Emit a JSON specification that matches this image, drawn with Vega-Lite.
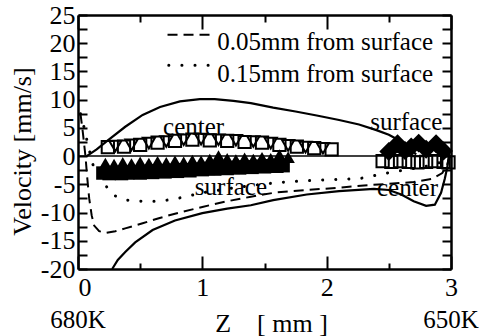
{
  "$schema": "https://vega.github.io/schema/vega-lite/v6.json",
  "width": 373,
  "height": 254,
  "autosize": {"type": "none"},
  "padding": {"left": 78, "top": 15, "right": 38, "bottom": 67},
  "background": "white",
  "config": {"view": {"stroke": null}},
  "datasets": {
    "lines": [
      {"series": "zero", "z": 0, "v": 0}, {"series": "zero", "z": 3, "v": 0},
      {"series": "up", "z": 0.07, "v": 0}, {"series": "up", "z": 0.15, "v": 1.2}, {"series": "up", "z": 0.24, "v": 2.8}, {"series": "up", "z": 0.38, "v": 5.2}, {"series": "up", "z": 0.52, "v": 7.3}, {"series": "up", "z": 0.66, "v": 8.7}, {"series": "up", "z": 0.82, "v": 9.7}, {"series": "up", "z": 0.98, "v": 10.1}, {"series": "up", "z": 1.1, "v": 10.1}, {"series": "up", "z": 1.25, "v": 9.8}, {"series": "up", "z": 1.39, "v": 9.4}, {"series": "up", "z": 1.57, "v": 8.6}, {"series": "up", "z": 1.75, "v": 7.9}, {"series": "up", "z": 1.92, "v": 7.2}, {"series": "up", "z": 2.1, "v": 6.4}, {"series": "up", "z": 2.26, "v": 5.6}, {"series": "up", "z": 2.4, "v": 4.6}, {"series": "up", "z": 2.5, "v": 3.8}, {"series": "up", "z": 2.6, "v": 2.6}, {"series": "up", "z": 2.67, "v": 1.4}, {"series": "up", "z": 2.72, "v": 0.3},
      {"series": "low", "z": 0.275, "v": -20}, {"series": "low", "z": 0.32, "v": -18.4}, {"series": "low", "z": 0.38, "v": -17}, {"series": "low", "z": 0.46, "v": -15.3}, {"series": "low", "z": 0.6, "v": -13.1}, {"series": "low", "z": 0.78, "v": -11.4}, {"series": "low", "z": 1.0, "v": -10.1}, {"series": "low", "z": 1.2, "v": -9.3}, {"series": "low", "z": 1.39, "v": -8.7}, {"series": "low", "z": 1.57, "v": -7.8}, {"series": "low", "z": 1.84, "v": -6.8}, {"series": "low", "z": 2.1, "v": -6.2}, {"series": "low", "z": 2.38, "v": -5.8}, {"series": "low", "z": 2.5, "v": -6.0}, {"series": "low", "z": 2.6, "v": -6.8}, {"series": "low", "z": 2.7, "v": -8.0}, {"series": "low", "z": 2.8, "v": -8.8}, {"series": "low", "z": 2.87, "v": -8.6}, {"series": "low", "z": 2.92, "v": -6.5}, {"series": "low", "z": 2.95, "v": -4.0}, {"series": "low", "z": 2.97, "v": -2.0}, {"series": "low", "z": 2.985, "v": 0.5},
      {"series": "dash", "z": 0.02, "v": 7.5}, {"series": "dash", "z": 0.04, "v": 4}, {"series": "dash", "z": 0.06, "v": 0}, {"series": "dash", "z": 0.075, "v": -4}, {"series": "dash", "z": 0.09, "v": -7.5}, {"series": "dash", "z": 0.11, "v": -10.5}, {"series": "dash", "z": 0.13, "v": -12.3}, {"series": "dash", "z": 0.17, "v": -13.3}, {"series": "dash", "z": 0.22, "v": -13.6}, {"series": "dash", "z": 0.3, "v": -13.3}, {"series": "dash", "z": 0.38, "v": -12.8}, {"series": "dash", "z": 0.52, "v": -11.9}, {"series": "dash", "z": 0.65, "v": -11.0}, {"series": "dash", "z": 0.78, "v": -10.2}, {"series": "dash", "z": 1.0, "v": -9.0}, {"series": "dash", "z": 1.2, "v": -8.0}, {"series": "dash", "z": 1.39, "v": -7.2}, {"series": "dash", "z": 1.6, "v": -6.4}, {"series": "dash", "z": 1.84, "v": -6.0}, {"series": "dash", "z": 2.1, "v": -5.6}, {"series": "dash", "z": 2.3, "v": -5.2}, {"series": "dash", "z": 2.5, "v": -4.9}, {"series": "dash", "z": 2.7, "v": -4.6}, {"series": "dash", "z": 2.85, "v": -4.0}, {"series": "dash", "z": 2.93, "v": -3.0}, {"series": "dash", "z": 2.97, "v": -1.5}, {"series": "dash", "z": 2.99, "v": 0},
      {"series": "dot", "z": 0.02, "v": 7.5}, {"series": "dot", "z": 0.05, "v": 5}, {"series": "dot", "z": 0.08, "v": 2}, {"series": "dot", "z": 0.12, "v": -1.5}, {"series": "dot", "z": 0.16, "v": -3.5}, {"series": "dot", "z": 0.22, "v": -5.1}, {"series": "dot", "z": 0.27, "v": -6.7}, {"series": "dot", "z": 0.33, "v": -7.4}, {"series": "dot", "z": 0.4, "v": -7.8}, {"series": "dot", "z": 0.52, "v": -8.0}, {"series": "dot", "z": 0.65, "v": -8.0}, {"series": "dot", "z": 0.78, "v": -7.6}, {"series": "dot", "z": 0.9, "v": -7.0}, {"series": "dot", "z": 1.0, "v": -6.5}, {"series": "dot", "z": 1.2, "v": -5.8}, {"series": "dot", "z": 1.4, "v": -5.2}, {"series": "dot", "z": 1.6, "v": -4.7}, {"series": "dot", "z": 1.8, "v": -4.4}, {"series": "dot", "z": 2.0, "v": -4.2}, {"series": "dot", "z": 2.26, "v": -4.0}, {"series": "dot", "z": 2.53, "v": -2.8}, {"series": "dot", "z": 2.7, "v": -2.2}, {"series": "dot", "z": 2.85, "v": -1.6}, {"series": "dot", "z": 2.95, "v": -0.8}, {"series": "dot", "z": 3.0, "v": 0},
      {"series": "legdash", "z": 0.72, "v": 21.5}, {"series": "legdash", "z": 1.09, "v": 21.5},
      {"series": "legdot", "z": 0.73, "v": 16.1}, {"series": "legdot", "z": 1.05, "v": 16.1}
    ],
    "pts": [
      {"kind": "fsq", "z": 0.20, "v": -3.0}, {"kind": "fsq", "z": 0.25, "v": -3.1}, {"kind": "fsq", "z": 0.30, "v": -2.9}, {"kind": "fsq", "z": 0.35, "v": -3.1}, {"kind": "fsq", "z": 0.40, "v": -3.0}, {"kind": "fsq", "z": 0.45, "v": -2.8}, {"kind": "fsq", "z": 0.50, "v": -3.0}, {"kind": "fsq", "z": 0.55, "v": -2.7}, {"kind": "fsq", "z": 0.60, "v": -2.9}, {"kind": "fsq", "z": 0.65, "v": -2.6}, {"kind": "fsq", "z": 0.70, "v": -2.8}, {"kind": "fsq", "z": 0.75, "v": -2.5}, {"kind": "fsq", "z": 0.80, "v": -2.7}, {"kind": "fsq", "z": 0.85, "v": -2.4}, {"kind": "fsq", "z": 0.90, "v": -2.6}, {"kind": "fsq", "z": 0.95, "v": -2.3}, {"kind": "fsq", "z": 1.00, "v": -2.4}, {"kind": "fsq", "z": 1.05, "v": -2.2}, {"kind": "fsq", "z": 1.10, "v": -2.3}, {"kind": "fsq", "z": 1.15, "v": -2.1}, {"kind": "fsq", "z": 1.20, "v": -2.2}, {"kind": "fsq", "z": 1.25, "v": -2.0}, {"kind": "fsq", "z": 1.30, "v": -2.1}, {"kind": "fsq", "z": 1.35, "v": -1.9}, {"kind": "fsq", "z": 1.40, "v": -2.0}, {"kind": "fsq", "z": 1.45, "v": -1.8}, {"kind": "fsq", "z": 1.50, "v": -1.9}, {"kind": "fsq", "z": 1.55, "v": -1.7}, {"kind": "fsq", "z": 1.60, "v": -1.8}, {"kind": "fsq", "z": 1.65, "v": -1.7},
      {"kind": "ftri", "z": 0.22, "v": -1.3}, {"kind": "ftri", "z": 0.29, "v": -1.5}, {"kind": "ftri", "z": 0.36, "v": -1.2}, {"kind": "ftri", "z": 0.43, "v": -1.4}, {"kind": "ftri", "z": 0.50, "v": -1.1}, {"kind": "ftri", "z": 0.57, "v": -1.3}, {"kind": "ftri", "z": 0.64, "v": -1.0}, {"kind": "ftri", "z": 0.71, "v": -1.2}, {"kind": "ftri", "z": 0.78, "v": -0.9}, {"kind": "ftri", "z": 0.85, "v": -1.1}, {"kind": "ftri", "z": 0.92, "v": -0.8}, {"kind": "ftri", "z": 0.99, "v": -0.9}, {"kind": "ftri", "z": 1.06, "v": -0.6}, {"kind": "ftri", "z": 1.13, "v": 0.0}, {"kind": "ftri", "z": 1.20, "v": -0.5}, {"kind": "ftri", "z": 1.27, "v": -0.7}, {"kind": "ftri", "z": 1.34, "v": -0.4}, {"kind": "ftri", "z": 1.41, "v": -0.6}, {"kind": "ftri", "z": 1.48, "v": -0.3}, {"kind": "ftri", "z": 1.55, "v": -0.5}, {"kind": "ftri", "z": 1.62, "v": 0.2}, {"kind": "ftri", "z": 1.69, "v": -0.2},
      {"kind": "osq", "z": 0.24, "v": 1.6}, {"kind": "osq", "z": 0.37, "v": 1.7}, {"kind": "osq", "z": 0.50, "v": 2.0}, {"kind": "osq", "z": 0.64, "v": 2.4}, {"kind": "osq", "z": 0.78, "v": 2.7}, {"kind": "osq", "z": 0.92, "v": 2.9}, {"kind": "osq", "z": 1.06, "v": 2.8}, {"kind": "osq", "z": 1.20, "v": 2.7}, {"kind": "osq", "z": 1.34, "v": 2.5}, {"kind": "osq", "z": 1.48, "v": 2.4}, {"kind": "osq", "z": 1.62, "v": 2.0}, {"kind": "osq", "z": 1.76, "v": 1.7}, {"kind": "osq", "z": 1.90, "v": 1.4}, {"kind": "osq", "z": 2.04, "v": 1.2},
      {"kind": "osq", "z": 2.45, "v": -0.9}, {"kind": "osq", "z": 2.52, "v": -1.0}, {"kind": "osq", "z": 2.59, "v": -0.9}, {"kind": "osq", "z": 2.66, "v": -1.0}, {"kind": "osq", "z": 2.73, "v": -1.1}, {"kind": "osq", "z": 2.80, "v": -1.0}, {"kind": "osq", "z": 2.87, "v": -0.9}, {"kind": "osq", "z": 2.94, "v": -1.0}, {"kind": "osq", "z": 2.98, "v": -1.1},
      {"kind": "otri", "z": 0.30, "v": 1.8}, {"kind": "otri", "z": 0.43, "v": 2.0}, {"kind": "otri", "z": 0.57, "v": 2.3}, {"kind": "otri", "z": 0.71, "v": 2.6}, {"kind": "otri", "z": 0.85, "v": 2.9}, {"kind": "otri", "z": 0.99, "v": 3.0}, {"kind": "otri", "z": 1.13, "v": 2.9}, {"kind": "otri", "z": 1.27, "v": 2.8}, {"kind": "otri", "z": 1.41, "v": 2.6}, {"kind": "otri", "z": 1.55, "v": 2.3}, {"kind": "otri", "z": 1.69, "v": 1.9}, {"kind": "otri", "z": 1.83, "v": 1.6}, {"kind": "otri", "z": 1.97, "v": 1.4},
      {"kind": "fdia", "z": 2.50, "v": 0.8}, {"kind": "fdia", "z": 2.57, "v": 2.2}, {"kind": "fdia", "z": 2.63, "v": 1.0}, {"kind": "fdia", "z": 2.68, "v": 1.6}, {"kind": "fdia", "z": 2.74, "v": 2.3}, {"kind": "fdia", "z": 2.80, "v": 1.2}, {"kind": "fdia", "z": 2.88, "v": 2.2}, {"kind": "fdia", "z": 2.94, "v": 0.9}
    ],
    "notes": [
      {"z": 0.93, "v": 3.7, "label": "center"},
      {"z": 2.64, "v": 4.6, "label": "surface"},
      {"z": 1.23, "v": -6.9, "label": "surface"},
      {"z": 2.65, "v": -7.1, "label": "center"},
      {"z": 0, "v": -30.5, "label": "680K"},
      {"z": 3, "v": -30.5, "label": "650K"}
    ],
    "legendText": [
      {"z": 1.12, "v": 18.8, "label": "0.05mm from surface"},
      {"z": 1.12, "v": 13.1, "label": "0.15mm from surface"}
    ]
  },
  "data": {"name": "lines"},
  "encoding": {
    "x": {"field": "z", "type": "quantitative", "scale": {"domain": [0, 3], "nice": false, "zero": false}, "axis": null},
    "y": {"field": "v", "type": "quantitative", "scale": {"domain": [-20, 25], "nice": false, "zero": false}, "axis": null}
  },
  "resolve": {"axis": {"x": "independent", "y": "independent"}},
  "layer": [
    {
      "transform": [{"filter": "datum.series === 'zero'"}],
      "mark": {"type": "line", "color": "black", "strokeWidth": 1.5}
    },
    {
      "transform": [{"filter": "datum.series === 'dash' || datum.series === 'legdash'"}],
      "mark": {"type": "line", "color": "black", "strokeWidth": 2, "strokeDash": [10, 6]},
      "encoding": {
        "detail": {"field": "series"},
        "x": {"field": "z", "type": "quantitative", "scale": {"domain": [0, 3], "nice": false, "zero": false},
          "axis": {"orient": "bottom", "values": [0, 0.5, 1, 1.5, 2, 2.5, 3],
            "labelExpr": "datum.value % 1 === 0 ? toString(datum.value) : ''",
            "labelAlign": {"condition": {"test": "datum.value === 0", "value": "left"}, "value": "center"},
            "tickSize": {"condition": {"test": "datum.value % 1 === 0", "value": -13}, "value": -6},
            "tickWidth": 2, "tickColor": "black", "domainColor": "black", "domainWidth": 2.5, "grid": false,
            "labelFont": "Liberation Serif", "labelFontSize": 26, "labelColor": "black", "labelPadding": 18, "labelFlush": false, "labelOverlap": false,
            "title": "Z\u2003[ mm ]", "titleFont": "Liberation Serif", "titleFontSize": 26, "titleFontWeight": "normal", "titleColor": "black",
            "titleX": 193, "titleY": 62, "titleBaseline": "alphabetic", "titleAlign": "center"}},
        "y": {"field": "v", "type": "quantitative", "scale": {"domain": [-20, 25], "nice": false, "zero": false},
          "axis": {"orient": "left", "values": [-20, -17.5, -15, -12.5, -10, -7.5, -5, -2.5, 0, 2.5, 5, 7.5, 10, 12.5, 15, 17.5, 20, 22.5, 25],
            "labelExpr": "datum.value % 5 === 0 ? toString(datum.value) : ''",
            "tickSize": -9, "tickWidth": 2, "tickColor": "black", "domainColor": "black", "domainWidth": 2.5, "grid": false,
            "labelFont": "Liberation Serif", "labelFontSize": 26, "labelColor": "black", "labelPadding": 12, "labelFlush": false, "labelOverlap": false,
            "title": "Velocity [mm/s]", "titleFont": "Liberation Serif", "titleFontSize": 26, "titleFontWeight": "normal", "titleColor": "black",
            "titleX": -48, "titleY": 136, "titleBaseline": "alphabetic", "titleAlign": "center", "titleAngle": -90}}
      }
    },
    {
      "transform": [{"filter": "datum.series === 'dot' || datum.series === 'legdot'"}],
      "mark": {"type": "line", "color": "black", "strokeWidth": 3, "strokeDash": [0.1, 13], "strokeCap": "round"},
      "encoding": {"detail": {"field": "series"}}
    },
    {
      "transform": [{"filter": "datum.series === 'up' || datum.series === 'low'"}],
      "mark": {"type": "line", "color": "black", "strokeWidth": 2.2},
      "encoding": {
        "detail": {"field": "series"},
        "x": {"field": "z", "type": "quantitative", "scale": {"domain": [0, 3], "nice": false, "zero": false},
          "axis": {"orient": "top", "values": [0, 0.5, 1, 1.5, 2, 2.5, 3], "labels": false,
            "tickSize": {"condition": {"test": "datum.value % 1 === 0", "value": -14}, "value": -7},
            "tickWidth": 2, "tickColor": "black", "domainColor": "black", "domainWidth": 2.5, "grid": false, "title": null}},
        "y": {"field": "v", "type": "quantitative", "scale": {"domain": [-20, 25], "nice": false, "zero": false},
          "axis": {"orient": "right", "values": [-20, -17.5, -15, -12.5, -10, -7.5, -5, -2.5, 0, 2.5, 5, 7.5, 10, 12.5, 15, 17.5, 20, 22.5, 25], "labels": false,
            "tickSize": -9, "tickWidth": 2, "tickColor": "black", "domainColor": "black", "domainWidth": 2.5, "grid": false, "title": null}}
      }
    },
    {
      "data": {"name": "pts"},
      "transform": [{"filter": "datum.kind === 'fsq'"}],
      "mark": {"type": "point", "shape": "square", "filled": true, "color": "black", "opacity": 1, "size": 180}
    },
    {
      "data": {"name": "pts"},
      "transform": [{"filter": "datum.kind === 'ftri'"}],
      "mark": {"type": "point", "shape": "triangle-up", "filled": true, "color": "black", "opacity": 1, "size": 180}
    },
    {
      "data": {"name": "pts"},
      "transform": [{"filter": "datum.kind === 'fdia'"}],
      "mark": {"type": "point", "shape": "diamond", "filled": true, "color": "black", "opacity": 1, "size": 360}
    },
    {
      "data": {"name": "pts"},
      "transform": [{"filter": "datum.kind === 'osq'"}],
      "mark": {"type": "point", "shape": "square", "filled": false, "color": "black", "opacity": 1, "strokeWidth": 2, "size": 150}
    },
    {
      "data": {"name": "pts"},
      "transform": [{"filter": "datum.kind === 'otri'"}],
      "mark": {"type": "point", "shape": "triangle-down", "filled": false, "color": "black", "opacity": 1, "strokeWidth": 2, "size": 150}
    },
    {
      "data": {"name": "notes"},
      "mark": {"type": "text", "font": "Liberation Serif", "fontSize": 25, "color": "black", "align": "center", "baseline": "alphabetic"},
      "encoding": {"text": {"field": "label"}}
    },
    {
      "data": {"name": "legendText"},
      "mark": {"type": "text", "font": "Liberation Serif", "fontSize": 25, "color": "black", "align": "left", "baseline": "alphabetic"},
      "encoding": {"text": {"field": "label"}}
    }
  ]
}
